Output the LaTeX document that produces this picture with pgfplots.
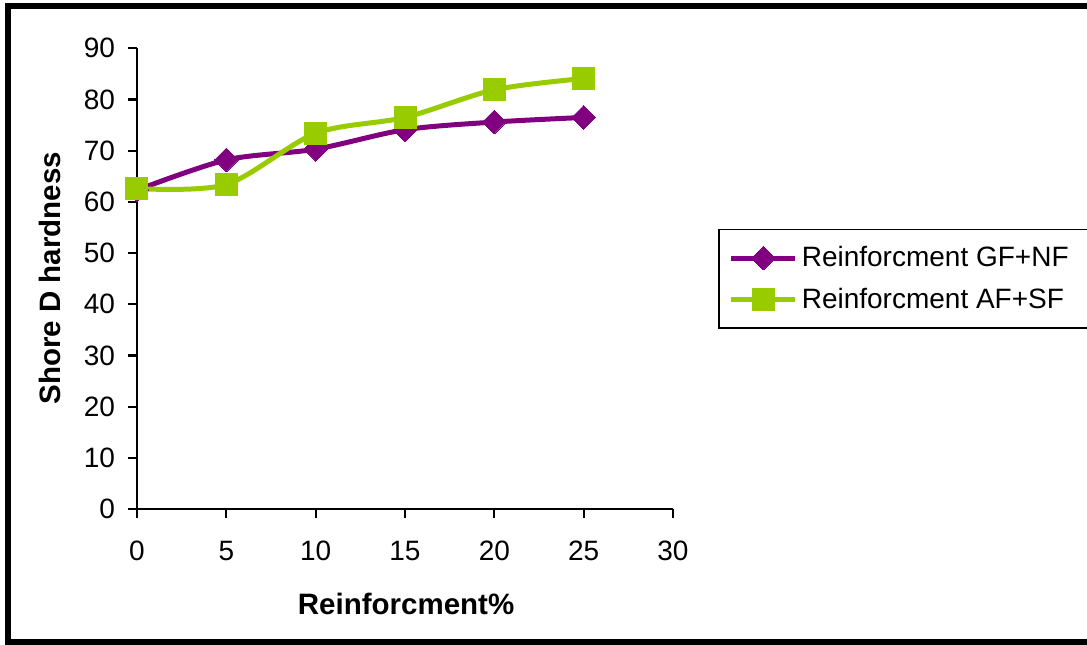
\documentclass[border=0pt]{standalone}
\usepackage{fontspec}
\setmainfont{Liberation Sans}
\usepackage{pgfplots}
\pgfplotsset{compat=1.18}
\definecolor{gfnf}{HTML}{800080}
\definecolor{afsf}{HTML}{99CC00}
\begin{document}
\begin{tikzpicture}
\useasboundingbox (0,0) rectangle (543.5pt,-322pt);
\clip (0,0) rectangle (543.5pt,-322pt);
% outer frame of the chart area
\draw[line width=3pt] (4pt,-3pt) rectangle (552pt,-321pt);
\begin{axis}[
  at={(68.5pt,-254.5pt)}, anchor=south west,
  scale only axis, width=268pt, height=230.35pt,
  xmin=0, xmax=30, ymin=0, ymax=90,
  axis x line=bottom, axis y line=left,
  axis line style={-, line width=1.1pt},
  xtick={0,5,...,30}, ytick={0,10,...,90},
  tick align=outside, major tick length=4.5pt,
  tick style={line width=1.1pt, black},
  ticklabel style={font=\fontsize{14}{16}\selectfont},
  xticklabel style={yshift=-8pt},
  yticklabel style={xshift=-3pt},
  /pgf/number format/assume math mode=true,
  xlabel={Reinforcment\%}, ylabel={Shore D hardness},
  label style={font=\fontsize{14.75}{17}\selectfont\bfseries},
  xlabel style={at={(axis description cs:0.502,-0.206)}, anchor=center},
  ylabel style={at={(axis description cs:-0.162,0.501)}, anchor=center},
  legend style={at={(1.084,0.6086)}, anchor=north west, draw=black,
    line width=0.8pt, font=\fontsize{14}{16}\selectfont,
    row sep=5pt, inner xsep=5pt, inner ysep=6.5pt,
    legend cell align=left},
  legend image code/.code={%
    \draw[mark repeat=2, mark phase=2, #1] plot coordinates {(0pt,0pt) (16pt,0pt) (32pt,0pt)};},
]
\addplot[gfnf, line width=2.5pt, smooth, mark=square*, mark size=4.2pt,
  mark options={rotate=45, solid, line width=0pt}]
  coordinates {(0,62.3) (5,68.2) (10,70.3) (15,74.1) (20,75.6) (25,76.5)};
\addlegendentry{Reinforcment GF+NF\hspace*{14pt}}
\addplot[afsf, line width=2.5pt, smooth, mark=square*, mark size=5.5pt,
  mark options={solid, line width=0pt}]
  coordinates {(0,62.6) (5,63.4) (10,73.4) (15,76.5) (20,81.9) (25,84.1)};
\addlegendentry{Reinforcment AF+SF}
\end{axis}
\end{tikzpicture}
\end{document}
